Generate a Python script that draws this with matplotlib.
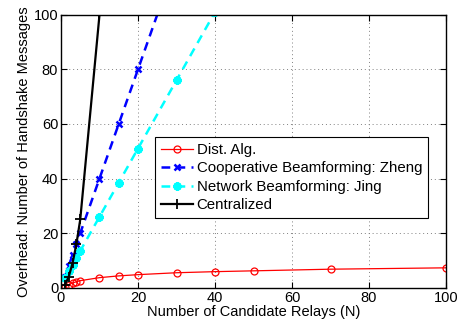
import matplotlib
matplotlib.use("Agg")
import matplotlib.pyplot as plt

plt.rcParams['font.family'] = ['Liberation Sans', 'DejaVu Sans']

n_dist = [1, 2, 3, 4, 5, 10, 15, 20, 30, 40, 50, 70, 100]
dist_alg = [0.3, 1.1, 1.75, 2.2, 2.6, 3.7, 4.35, 4.8, 5.5, 5.9, 6.2, 6.8, 7.3]

n_zheng = [1, 2, 3, 4, 5, 10, 15, 20, 30]
zheng = [4, 8, 12, 16, 20, 40, 60, 80, 120]

n_jing = [1, 2, 3, 4, 5, 10, 15, 20, 30, 40]
jing = [3.5, 6, 8.5, 11, 13.5, 26, 38.5, 51, 76, 101]

n_cent = [1, 2, 3, 4, 5, 10]
cent = [1, 4, 9, 16, 25, 100]

fig = plt.figure(figsize=(4.6, 3.27), dpi=100)
ax = fig.add_axes([0.1326, 0.12, 0.837, 0.835])

ax.plot(n_dist, dist_alg, color='red', lw=0.9, marker='o', ms=5, mfc='none', mew=0.9,
        label='Dist. Alg.')
ax.plot(n_zheng, zheng, color='blue', lw=1.8, ls=(0, (3.5, 2.5)), marker='x', ms=5, mew=1.8,
        label='Cooperative Beamforming: Zheng')
ax.plot(n_jing, jing, color='cyan', lw=1.8, ls=(0, (3.5, 2.5)), marker=(8, 2, 0), ms=6, mew=1.8,
        label='Network Beamforming: Jing')
ax.plot(n_cent, cent, color='black', lw=1.6, marker='+', ms=7, mew=1.3,
        label='Centralized')

ax.set_xlim(0, 100)
ax.set_ylim(0, 100)
ax.set_xticks([0, 20, 40, 60, 80, 100])
ax.set_yticks([0, 20, 40, 60, 80, 100])
ax.grid(True, color='#808080', ls=(0, (1, 3)), lw=0.7)
ax.tick_params(direction='in', top=True, right=True, labelsize=10.5, length=4, pad=2)
for s in ax.spines.values():
    s.set_linewidth(1.0)

ax.set_xlabel('Number of Candidate Relays (N)', fontsize=10.5, labelpad=0)
ax.set_ylabel('Overhead: Number of Handshake Messages', fontsize=10.5, labelpad=2)

leg = ax.legend(loc='upper left', bbox_to_anchor=(0.245, 0.553), fontsize=10.8,
                frameon=True, fancybox=False, edgecolor='black', framealpha=1,
                handlelength=2.1, handletextpad=0.25, borderpad=0.4, labelspacing=0.3,
                borderaxespad=0)
leg.get_frame().set_linewidth(0.8)

fig.savefig('out.png', dpi=100)
